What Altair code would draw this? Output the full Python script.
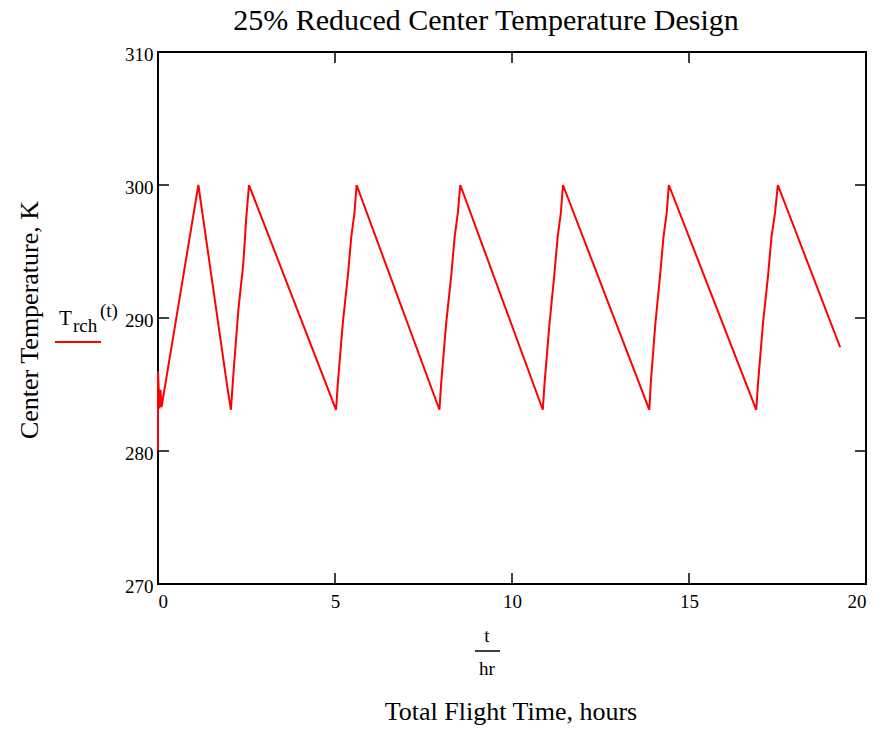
import altair as alt
import pandas as pd

# ---- data ----
time_hr = [0.00, 0.00, 0.04, 0.07, 0.10, 1.14,
           1.97, 2.06, 2.13, 2.27, 2.41, 2.49, 2.57,
           5.03, 5.08, 5.22, 5.36, 5.46, 5.55, 5.61,
           7.95, 8.00, 8.14, 8.28, 8.38, 8.47, 8.54,
           10.87, 10.92, 11.06, 11.19, 11.29, 11.38, 11.44,
           13.88, 13.92, 14.05, 14.18, 14.28, 14.37, 14.43,
           16.90, 16.95, 17.09, 17.23, 17.33, 17.43, 17.51,
           19.27]
temp_K = [280.0, 286.0, 283.2, 284.6, 283.3, 300.0,
          284.6, 283.1, 285.8, 290.6, 294.1, 297.4, 300.0,
          283.1, 285.1, 289.6, 293.1, 296.1, 297.9, 300.0,
          283.1, 285.1, 289.6, 293.1, 296.1, 297.9, 300.0,
          283.1, 285.1, 289.6, 293.1, 296.1, 297.9, 300.0,
          283.1, 285.1, 289.6, 293.1, 296.1, 297.9, 300.0,
          283.1, 285.1, 289.6, 293.1, 296.1, 297.9, 300.0,
          287.8]
x_tick_values = [0, 5, 10, 15, 20]
y_tick_values = [270, 280, 290, 300, 310]
inner_x_ticks = [5, 10, 15]
inner_y_ticks = [280, 290, 300]

title_text = "25% Reduced Center Temperature Design"
y_title_text = "Center Temperature, K"
x_title_text = "Total Flight Time, hours"

W, H = 708, 532
FONT = "Liberation Serif"

df = pd.DataFrame({"t": time_hr, "T": temp_K, "i": list(range(len(time_hr)))})

xs = alt.Scale(domain=[0, 20], nice=False, zero=False)
ys = alt.Scale(domain=[270, 310], nice=False, zero=False)
xaxis = alt.Axis(values=x_tick_values, title=None, labelPadding=8, format="d")
yaxis = alt.Axis(values=y_tick_values, title=None, labelPadding=5, labelOffset=2, format="d")

line = alt.Chart(df).mark_line(color="#ff0000", strokeWidth=2).encode(
    x=alt.X("t:Q", scale=xs, axis=xaxis),
    y=alt.Y("T:Q", scale=ys, axis=yaxis),
    order="i:Q",
)

tx = pd.DataFrame({"t": inner_x_ticks})
ty = pd.DataFrame({"T": inner_y_ticks})
TL = 11
tick_bottom = alt.Chart(tx).mark_rule(color="black", strokeWidth=1.5).encode(
    x=alt.X("t:Q", scale=xs, axis=xaxis), y=alt.value(H), y2=alt.value(H - TL))
tick_top = alt.Chart(tx).mark_rule(color="black", strokeWidth=1.5).encode(
    x=alt.X("t:Q", scale=xs, axis=xaxis), y=alt.value(0), y2=alt.value(TL))
tick_left = alt.Chart(ty).mark_rule(color="black", strokeWidth=1.5).encode(
    y=alt.Y("T:Q", scale=ys, axis=yaxis), x=alt.value(0), x2=alt.value(TL))
tick_right = alt.Chart(ty).mark_rule(color="black", strokeWidth=1.5).encode(
    y=alt.Y("T:Q", scale=ys, axis=yaxis), x=alt.value(W), x2=alt.value(W - TL))


def text(s, x, y, size, align="center", baseline="middle", angle=0):
    return alt.Chart(pd.DataFrame({"s": [s]})).mark_text(
        font=FONT, fontSize=size, color="black", align=align,
        baseline=baseline, angle=angle,
    ).encode(x=alt.value(x), y=alt.value(y), text="s:N")


def hrule(x1, x2, y, color, width):
    return alt.Chart(pd.DataFrame({"a": [0]})).mark_rule(
        color=color, strokeWidth=width
    ).encode(x=alt.value(x1), x2=alt.value(x2), y=alt.value(y))


layers = [
    line, tick_bottom, tick_top, tick_left, tick_right,
    text(title_text, 328, -22, 30, baseline="alphabetic"),
    text(y_title_text, -128, 268, 26, angle=270),
    text("t", 329, 584, 19),
    hrule(317, 342, 599, "black", 1.5),
    text("hr", 329, 617, 19),
    text(x_title_text, 353, 660, 26),
    # legend
    text("T", -99, 273, 21, align="left", baseline="alphabetic"),
    text("rch", -85, 280, 19, align="left", baseline="alphabetic"),
    text("(t)", -58, 265, 19, align="left", baseline="alphabetic"),
    hrule(-103, -57, 290, "#ff0000", 2),
]

chart = alt.layer(*layers).properties(
    width=W, height=H,
    autosize=alt.AutoSizeParams(type="none"),
    padding={"left": 150, "top": 44, "right": 10, "bottom": 145},
).configure_view(
    stroke="black", strokeWidth=2
).configure_axis(
    domain=False, ticks=False, grid=False,
    labelFont=FONT, labelFontSize=19, labelColor="black",
)

chart.save("out.html", embed_options={"renderer": "svg", "actions": False})
